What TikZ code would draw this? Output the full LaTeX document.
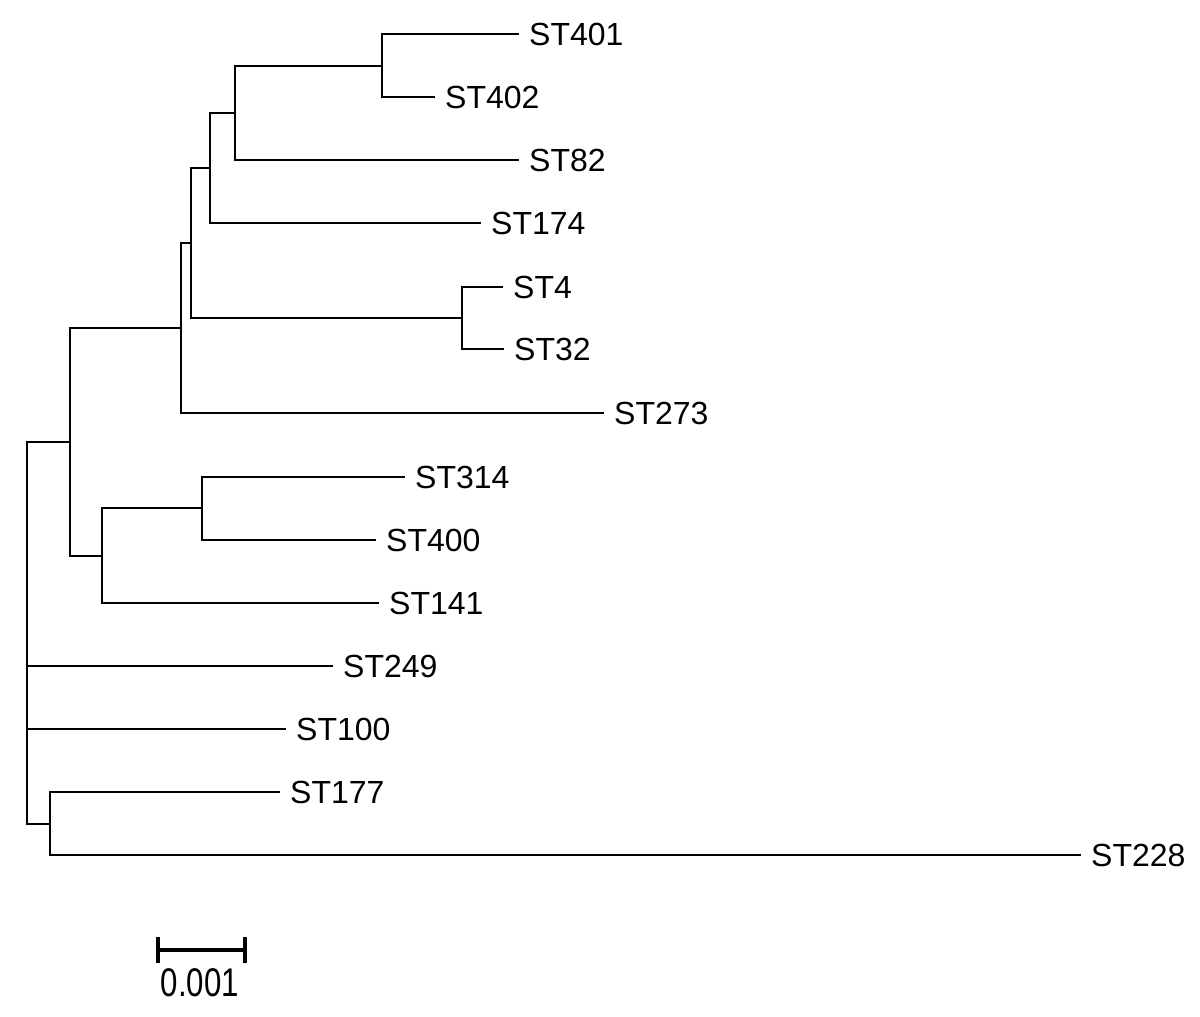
\documentclass[tikz,border=0pt]{standalone}
\usepackage{fontspec}
\setmainfont{Liberation Sans}
\begin{document}
\begin{tikzpicture}[x=1pt,y=-1pt,
  branch/.style={line width=2.8pt, line cap=rect},
  leaf/.style={anchor=west, inner xsep=11pt, inner ysep=0pt, font=\fontsize{32}{38}\selectfont},
  barline/.style={line width=4pt}]
\useasboundingbox (0,0) rectangle (1200,1017);
% leaves
\node[leaf] (L401) at (518,34) {ST401};
\node[leaf] (L402) at (434,97) {ST402};
\node[leaf] (L82)  at (518,160) {ST82};
\node[leaf] (L174) at (480,223) {ST174};
\node[leaf] (L4)   at (502,287) {ST4};
\node[leaf] (L32)  at (503,349) {ST32};
\node[leaf] (L273) at (603,413) {ST273};
\node[leaf] (L314) at (404,477) {ST314};
\node[leaf] (L400) at (375,540) {ST400};
\node[leaf] (L141) at (378,603) {ST141};
\node[leaf] (L249) at (332,666) {ST249};
\node[leaf] (L100) at (285,729) {ST100};
\node[leaf] (L177) at (279,792) {ST177};
\node[leaf] (L228) at (1080,855) {ST228};
% internal nodes
\coordinate (A) at (382,66);
\coordinate (B) at (235,113);
\coordinate (C) at (210,168);
\coordinate (D) at (462,318);
\coordinate (E) at (191,243);
\coordinate (F) at (181,328);
\coordinate (G) at (202,508);
\coordinate (H) at (102,556);
\coordinate (I) at (70,442);
\coordinate (J) at (50,824);
\coordinate (R) at (27,633);
% branches
\draw[branch] (A) |- (L401.west);
\draw[branch] (A) |- (L402.west);
\draw[branch] (B) |- (A);
\draw[branch] (B) |- (L82.west);
\draw[branch] (C) |- (B);
\draw[branch] (C) |- (L174.west);
\draw[branch] (D) |- (L4.west);
\draw[branch] (D) |- (L32.west);
\draw[branch] (E) |- (C);
\draw[branch] (E) |- (D);
\draw[branch] (F) |- (E);
\draw[branch] (F) |- (L273.west);
\draw[branch] (G) |- (L314.west);
\draw[branch] (G) |- (L400.west);
\draw[branch] (H) |- (G);
\draw[branch] (H) |- (L141.west);
\draw[branch] (I) |- (F);
\draw[branch] (I) |- (H);
\draw[branch] (J) |- (L177.west);
\draw[branch] (J) |- (L228.west);
\draw[branch] (R) |- (I);
\draw[branch] (R) |- (L249.west);
\draw[branch] (R) |- (L100.west);
\draw[branch] (R) |- (J);
% scale bar
\coordinate (S1) at (158,950);
\coordinate (S2) at (245,950);
\draw[barline] (S1) -- (S2);
\draw[barline] ([yshift=-13pt]S1) -- ([yshift=13pt]S1);
\draw[barline] ([yshift=-13pt]S2) -- ([yshift=13pt]S2);
\node[inner sep=0pt, font=\fontsize{40}{46}\selectfont] (SL) at (200,983) {\scalebox{0.78}[1]{0.001}};
\end{tikzpicture}
\end{document}
